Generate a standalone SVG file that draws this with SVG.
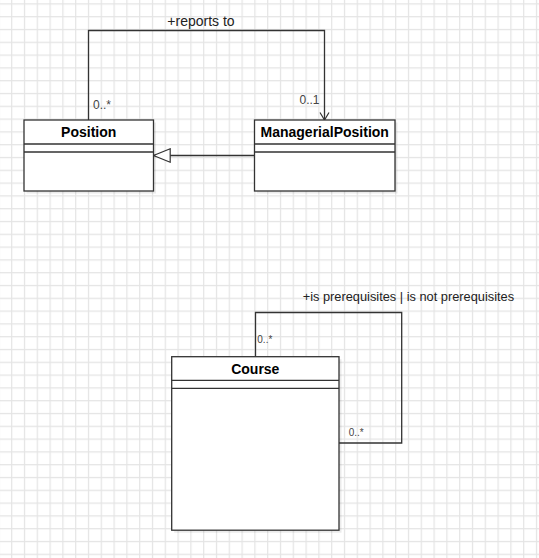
<svg xmlns="http://www.w3.org/2000/svg" width="539" height="558" viewBox="0 0 539 558">
  <defs>
    <pattern id="grid" patternUnits="userSpaceOnUse" x="11.1" y="3.3" width="12.8" height="12.8">
      <path d="M0.6 0 V12.8 M0 0.6 H12.8" stroke="#e4e4e4" stroke-width="1.2" fill="none"/>
    </pattern>
    <marker id="openArrow" viewBox="-1 -6 9 12" refX="7.5" refY="0" markerWidth="9" markerHeight="12" markerUnits="userSpaceOnUse" orient="auto">
      <path d="M0 -4.5 L7.5 0 L0 4.5" fill="none" stroke="#333" stroke-width="1.2"/>
    </marker>
    <marker id="hollowTri" viewBox="-1 -8 19 16" refX="16.7" refY="0" markerWidth="19" markerHeight="16" markerUnits="userSpaceOnUse" orient="auto">
      <path d="M0 -6.7 L16.7 0 L0 6.7 Z" fill="#fff" stroke="#333" stroke-width="1.2"/>
    </marker>
  </defs>
  <style>
    .box { fill: #fff; stroke: #333; stroke-width: 1.3; }
    .shadow { fill: #000; opacity: 0.08; }
    .sep { stroke: #333; stroke-width: 1.3; fill: none; }
    .title { font-family: "Liberation Sans", Arial, sans-serif; font-size: 14px; font-weight: bold; fill: #000; text-anchor: middle; }
    .edge { fill: none; stroke: #333; stroke-width: 1.3; }
    .lbl { font-family: "Liberation Sans", Arial, sans-serif; font-size: 14px; fill: #222; }
    .lbl-m { font-family: "Liberation Sans", Arial, sans-serif; font-size: 12.8px; fill: #222; }
    .mult { font-family: "Liberation Sans", Arial, sans-serif; font-size: 12px; fill: #444; }
    .mult-s { font-family: "Liberation Sans", Arial, sans-serif; font-size: 10px; fill: #444; }
  </style>
  <rect x="0" y="0" width="539" height="558" fill="#fff"/>
  <rect x="0" y="0" width="539" height="558" fill="url(#grid)"/>

  <g id="connectors">
    <path class="edge" d="M88.5 120 V30.5 H324.5 V120" marker-end="url(#openArrow)"/>
    <path class="edge" d="M254.5 155.5 H153.5" marker-end="url(#hollowTri)"/>
    <path class="edge" d="M255.5 356.7 V312.5 H401.7 V443 H339"/>
    <text class="lbl" x="201" y="25.5" text-anchor="middle">+reports to</text>
    <text class="mult" x="93" y="109">0..*</text>
    <text class="mult" x="299.5" y="103.5">0..1</text>
    <text class="lbl-m" x="302.7" y="301">+is prerequisites | is not prerequisites</text>
    <text class="mult-s" x="257.3" y="342.5">0..*</text>
    <text class="mult-s" x="348.7" y="436">0..*</text>
  </g>

  <g id="node-position">
    <rect class="shadow" x="26.5" y="122.5" width="129.5" height="71"/>
    <rect class="box" x="24" y="120" width="129.5" height="71"/>
    <path class="sep" d="M24 144 H153.5 M24 152 H153.5"/>
    <text class="title" x="88.7" y="137.3">Position</text>
  </g>

  <g id="node-managerialposition">
    <rect class="shadow" x="257" y="122.5" width="140.5" height="71"/>
    <rect class="box" x="254.5" y="120" width="140.5" height="71"/>
    <path class="sep" d="M254.5 144 H395 M254.5 152 H395"/>
    <text class="title" x="324.7" y="137.3">ManagerialPosition</text>
  </g>

  <g id="node-course">
    <rect class="shadow" x="174.2" y="359.2" width="167.3" height="173.5"/>
    <rect class="box" x="171.7" y="356.7" width="167.3" height="173.5"/>
    <path class="sep" d="M171.7 380.3 H339 M171.7 388.3 H339"/>
    <text class="title" x="255.3" y="374">Course</text>
  </g>
</svg>
